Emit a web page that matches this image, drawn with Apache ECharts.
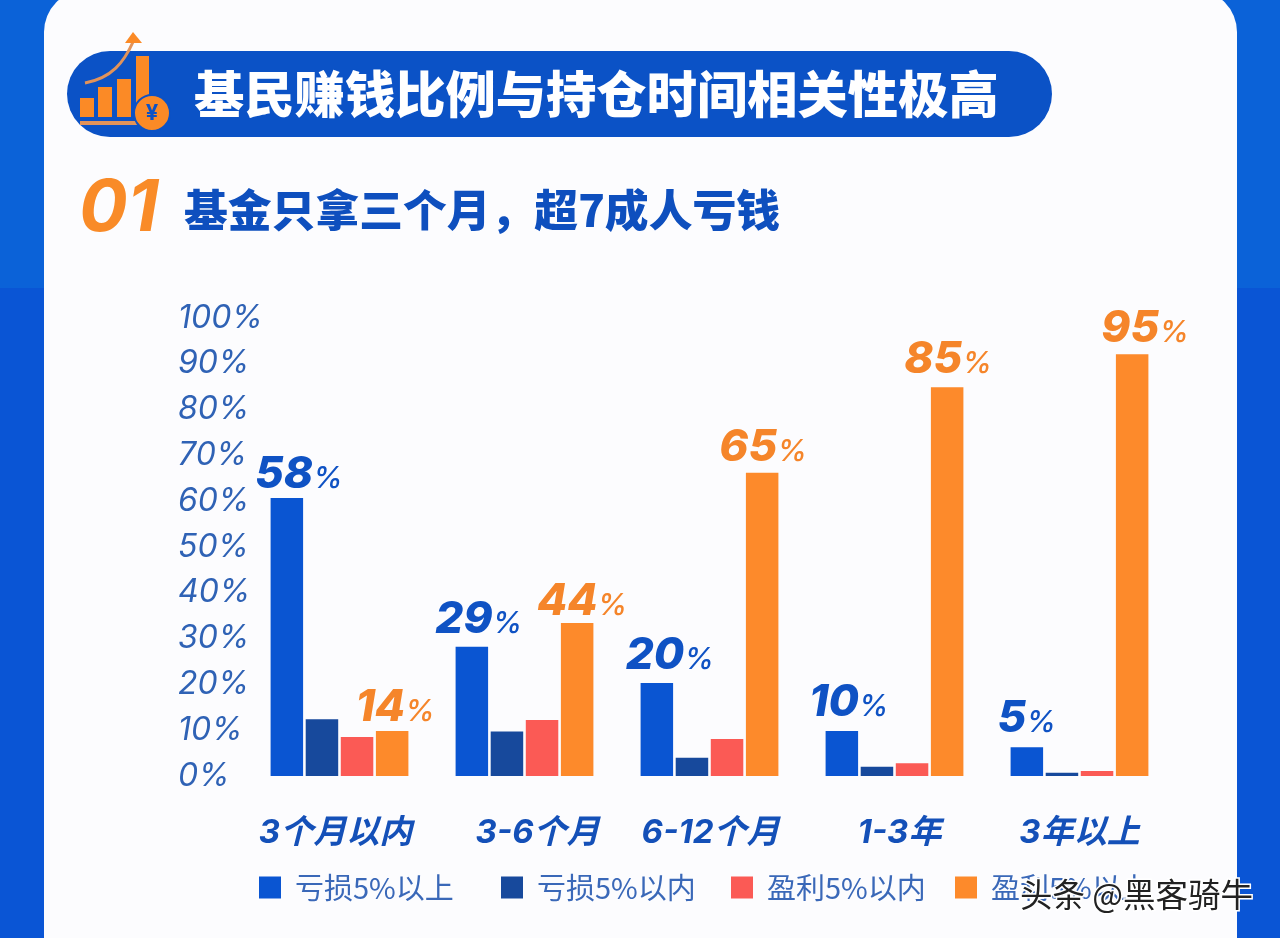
<!DOCTYPE html>
<html>
<head>
    <meta charset="utf-8">
    <style>
        body{
            margin:0;
            padding:0;
        }
        #chart{
            width: 1280px;
            height: 938px;
        }
    </style>
</head>
<body>
    <div id="chart"></div>
    <script src="https://cdn.jsdelivr.net/npm/echarts@6/dist/echarts.min.js"></script>
    <script>
        var categories = ["3个月以内", "3-6个月", "6-12个月", "1-3年", "3年以上"];
        var yTicks = [0, 10, 20, 30, 40, 50, 60, 70, 80, 90, 100];
        var seriesNames = ["亏损5%以上", "亏损5%以内", "盈利5%以内", "盈利5%以上"];

        // bar heights as drawn in the picture (they do not quite follow the printed labels)
        var lossBig = [60.7, 28.2, 20.3, 9.8, 6.3];
        var lossSmall = [12.4, 9.7, 4.0, 2.0, 0.7];
        var gainSmall = [8.5, 12.2, 8.1, 2.8, 1.1];
        var gainBig = [9.8, 33.4, 66.2, 84.9, 92.1];

        // printed labels
        var lossBigLabels = [58, 29, 20, 10, 5];
        var gainBigLabels = [14, 44, 65, 85, 95];

        var lossLabelOffsets = [[12, 4], [7, 0], [13, 0], [7, -1], [0, -1]];
        var gainLabelOffsets = [[3, 4], [5, 6], [1, 2], [1, 0], [13, 2]];
        var categoryShifts = [-4, 13, 1, 5, 0];

        var colors = ["#0a55d2", "#17499c", "#fb5a55", "#fd8a2b"];
        var latin = 'Inter, "Noto Sans CJK SC", sans-serif';
        var cjk = '"Noto Sans CJK SC", sans-serif';

        function bigLabels(values, labels, offsets, color){
            return values.map(function(v, i){
                return {
                    value: v,
                    label: {
                        show: true,
                        position: "top",
                        offset: offsets[i],
                        formatter: "{n|" + labels[i] + "}{p|%}",
                        rich: {
                            n: { fontFamily: latin, fontSize: 44, fontWeight: 800, fontStyle: "italic", color: color },
                            p: { fontFamily: latin, fontSize: 30, fontWeight: 500, fontStyle: "italic", color: color, padding: [8, 0, 0, 0] }
                        }
                    }
                };
            });
        }

        function makeSeries(name, data, color){
            return {
                name: name,
                type: "bar",
                data: data,
                barWidth: 32.5,
                barGap: "8%",
                itemStyle: { color: color }
            };
        }

        function makeLegend(index, left){
            return {
                data: [seriesNames[index]],
                left: left,
                top: 868,
                itemWidth: 22,
                itemHeight: 22,
                itemGap: 0,
                selectedMode: false,
                icon: "rect",
                textStyle: { fontFamily: cjk, fontSize: 29, color: "#3a68b8", padding: [0, 0, 0, 9] }
            };
        }

        // a centred label moves by half the padding added on one side
        var categoryItems = categories.map(function(name, i){
            var s = categoryShifts[i];
            return {
                value: name,
                textStyle: { padding: s >= 0 ? [0, 0, 0, 2 * s] : [0, -2 * s, 0, 0] }
            };
        });

        var chart = echarts.init(document.getElementById("chart"));
        var option = {
            animation: false,
            backgroundColor: "#0a55d5",
            title: [
                {
                    text: "基民赚钱比例与持仓时间相关性极高",
                    left: 189, top: 64,
                    textStyle: { fontFamily: cjk, fontSize: 50.3, fontWeight: 900, color: "#ffffff" }
                },
                {
                    text: "基金只拿三个月，超7成人亏钱",
                    left: 179, top: 183,
                    textStyle: { fontFamily: cjk, fontSize: 43.8, fontWeight: 900, color: "#0e4fbe" }
                },
                {
                    text: "01",
                    left: 74, top: 168,
                    textStyle: { fontFamily: latin, fontSize: 72, fontWeight: "bold", fontStyle: "italic", color: "#f98b28" }
                }
            ],
            grid: { left: 247, right: 108, top: 318, bottom: 162 },
            legend: [makeLegend(0, 254), makeLegend(1, 496), makeLegend(2, 726), makeLegend(3, 950)],
            xAxis: {
                type: "category",
                data: categoryItems,
                axisLine: { show: false },
                axisTick: { show: false },
                axisLabel: {
                    interval: 0,
                    margin: 41,
                    fontFamily: latin,
                    fontSize: 33,
                    fontWeight: "bold",
                    fontStyle: "italic",
                    color: "#1450b8"
                }
            },
            yAxis: {
                type: "value",
                min: yTicks[0],
                max: yTicks[yTicks.length - 1],
                interval: 10,
                splitLine: { show: false },
                axisLine: { show: false },
                axisTick: { show: false },
                axisLabel: {
                    margin: 69,
                    align: "left",
                    padding: [4, 0, 0, 0],
                    formatter: "{value}%",
                    fontFamily: latin,
                    fontSize: 32,
                    fontWeight: 400,
                    fontStyle: "italic",
                    color: "#2f62b5"
                }
            },
            series: [
                makeSeries(seriesNames[0], bigLabels(lossBig, lossBigLabels, lossLabelOffsets, "#0f52c4"), colors[0]),
                makeSeries(seriesNames[1], lossSmall, colors[1]),
                makeSeries(seriesNames[2], gainSmall, colors[2]),
                makeSeries(seriesNames[3], bigLabels(gainBig, gainBigLabels, gainLabelOffsets, "#f5852a"), colors[3])
            ],
            graphic: [
                // backdrop
                { type: "rect", z: -10, shape: { x: 0, y: 0, width: 1280, height: 288 }, style: { fill: "#0b62d8" } },
                { type: "rect", z: -9, shape: { x: 44, y: -10, width: 1193, height: 1000, r: 42 }, style: { fill: "#fcfcfe" } },
                { type: "rect", z: -8, shape: { x: 67, y: 51, width: 985, height: 86, r: 43 }, style: { fill: "#0b52c6" } },
                // icon in the pill
                { type: "rect", z: -7, shape: { x: 80, y: 98, width: 14, height: 19 }, style: { fill: "#fb8a26" } },
                { type: "rect", z: -7, shape: { x: 98, y: 87, width: 14, height: 30 }, style: { fill: "#fb8a26" } },
                { type: "rect", z: -7, shape: { x: 117, y: 79, width: 14, height: 38 }, style: { fill: "#fb8a26" } },
                { type: "rect", z: -7, shape: { x: 136, y: 56, width: 13, height: 48 }, style: { fill: "#fb8a26" } },
                { type: "rect", z: -7, shape: { x: 80, y: 121, width: 58, height: 4 }, style: { fill: "#e2935a" } },
                { type: "bezierCurve", z: -7, shape: { x1: 85, y1: 83, cpx1: 112, cpy1: 78, cpx2: 124, cpy2: 62, x2: 133, y2: 42 }, style: { stroke: "#e2935a", lineWidth: 3, fill: "none" } },
                { type: "polygon", z: -7, shape: { points: [[133, 32], [125, 43], [142, 43]] }, style: { fill: "#fb8a26" } },
                { type: "circle", z: -6, shape: { cx: 152, cy: 113, r: 18 }, style: { fill: "#fb8a26", stroke: "#0b52c6", lineWidth: 2 } },
                { type: "text", z: -5, style: { x: 152, y: 113, text: "¥", align: "center", verticalAlign: "middle", fontFamily: latin, fontSize: 22, fontWeight: "bold", fill: "#0b52c6" } },
                // watermark
                {
                    type: "text",
                    z: 100,
                    style: {
                        x: 1020, y: 895,
                        text: "头条 @黑客骑牛",
                        verticalAlign: "middle",
                        fontFamily: cjk,
                        fontSize: 32.5,
                        fill: "#222222",
                        stroke: "#ffffff",
                        lineWidth: 3
                    }
                }
            ]
        };
        chart.setOption(option);
    </script>
</body>
</html>
